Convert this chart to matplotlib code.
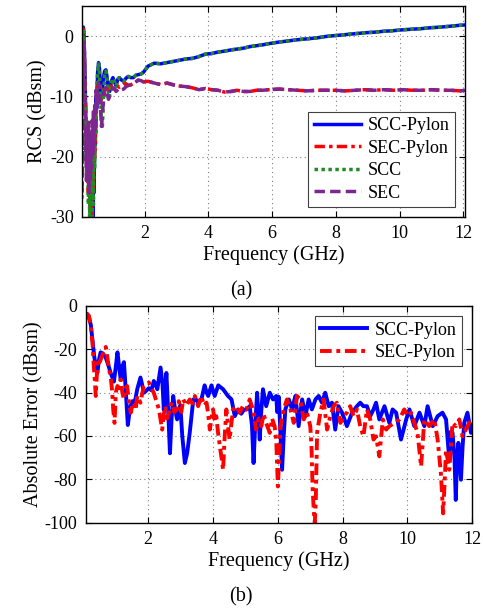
import matplotlib
matplotlib.use("Agg")
import matplotlib.pyplot as plt
import numpy as np

plt.rcParams['font.family'] = ['Liberation Serif', 'DejaVu Serif']
plt.rcParams['axes.unicode_minus'] = False

# ---------------- (a) RCS data ----------------
f_low = [0.03, 0.05, 0.07, 0.09, 0.11, 0.13, 0.15, 0.17, 0.19, 0.21, 0.23, 0.25, 0.27, 0.29,
         0.31, 0.33, 0.35, 0.37, 0.39, 0.41, 0.43, 0.45, 0.47, 0.49, 0.52, 0.55, 0.58, 0.61,
         0.64, 0.67, 0.70, 0.74, 0.78, 0.82, 0.86, 0.90, 0.95, 1.00, 1.05, 1.10, 1.15, 1.20,
         1.27, 1.34, 1.41, 1.48, 1.56, 1.64, 1.72, 1.80, 1.88, 1.96]
f_high = [2.1, 2.3, 2.5, 2.7, 2.9, 3.1, 3.3, 3.5, 3.7, 3.9, 4.1, 4.3, 4.5, 4.7, 4.9, 5.1, 5.3,
          5.5, 5.7, 5.9, 6.2, 6.5, 6.8, 7.1, 7.4, 7.7, 8.0, 8.3, 8.6, 8.9, 9.2, 9.5, 9.8, 10.1,
          10.4, 10.7, 11.0, 11.3, 11.6, 11.9, 12.05]

scc_pylon_low = [-5, -1, 1.5, 0.5, -3, -8, -14, -20, -16, -24, -18, -26, -20, -28, -22, -30,
                 -24, -30, -20, -26, -14, -18, -10, -12, -6, -4.4, -5.5, -9, -10.5, -9, -7,
                 -5.8, -5.6, -7, -9, -9.2, -7.5, -6.9, -7.6, -8.3, -7.2, -6.9, -7.3, -7.5, -7.0,
                 -6.7, -6.9, -6.9, -6.5, -6.4, -6.3, -6.0]
scc_ref_low = [-27, -10, 0, 0.8, -4, -10, -20, -14, -24, -18, -28, -20, -30, -22, -26, -18,
               -30, -22, -28, -16, -22, -12, -16, -9, -6, -4.6, -6, -10, -14, -15, -11, -6.5,
               -5.8, -7.2, -9.5, -9.6, -7.8, -7.0, -7.6, -8.3, -7.2, -6.9, -7.3, -7.5, -7.0,
               -6.7, -6.9, -6.9, -6.5, -6.4, -6.3, -6.0]
sec_pylon_low = [-4, 0, 1.7, 0, -4, -9, -12, -18, -14, -22, -26, -16, -24, -30, -20, -28, -30,
                 -18, -26, -14, -20, -12, -15, -9, -8, -7.5, -8.2, -9.5, -10.5, -9.5, -8.5,
                 -8.8, -8.6, -8.9, -8.8, -8.5, -8.3, -8.4, -8.2, -8.1, -8.3, -8.5, -8.3, -8.0,
                 -7.9, -8.2, -8.1, -7.9, -7.6, -7.3, -7.4, -7.6]
sec_ref_low = [-26, -20, -6, -1, -6, -12, -18, -24, -16, -22, -14, -26, -18, -24, -16, -22,
               -14, -20, -12, -18, -11, -16, -9, -12, -9, -7.8, -9, -12, -15, -13, -11, -9,
               -8.5, -9.5, -10.5, -10, -9, -8.6, -8.8, -9.2, -8.9, -8.6, -8.9, -8.8, -8.4,
               -8.2, -8.1, -7.9, -7.6, -7.3, -7.4, -7.6]
scc_high = [-5.0, -4.5, -4.6, -4.4, -4.2, -4.0, -3.8, -3.7, -3.4, -3.0, -2.9, -2.65, -2.5,
            -2.3, -2.15, -2.0, -1.75, -1.6, -1.45, -1.25, -1.0, -0.8, -0.6, -0.45, -0.3,
            -0.05, 0.1, 0.25, 0.4, 0.55, 0.65, 0.8, 0.9, 1.05, 1.15, 1.25, 1.4, 1.5, 1.65,
            1.8, 1.85]
sec_high = [-7.5, -7.8, -8.05, -7.8, -8.1, -8.3, -8.4, -8.6, -8.9, -8.7, -8.9, -9.0, -9.3,
            -9.2, -9.0, -9.2, -9.2, -9.0, -9.0, -8.9, -8.8, -8.9, -9.0, -9.1, -9.0, -9.0,
            -9.0, -9.1, -9.0, -8.9, -9.0, -8.9, -9.0, -8.9, -9.0, -9.0, -8.9, -9.0, -9.0,
            -9.1, -9.0]

# ---------------- (b) Absolute error data ----------------
f_err_scc = [0.07, 0.12, 0.18, 0.23, 0.28, 0.33, 0.38, 0.43, 0.48, 0.53, 0.60, 0.69, 0.76,
             0.84, 0.94, 1.00, 1.05, 1.10, 1.15, 1.20, 1.25, 1.31, 1.37, 1.44, 1.51, 1.58,
             1.66, 1.76, 1.82, 1.87, 1.95, 2.02, 2.10, 2.17, 2.22, 2.28, 2.38, 2.44, 2.48,
             2.52, 2.56, 2.62, 2.67, 2.72, 2.77, 2.83, 2.89, 2.94, 2.99, 3.05, 3.13, 3.20,
             3.28, 3.39, 3.46, 3.54, 3.64, 3.74, 3.80, 3.85, 3.95, 4.05, 4.16, 4.31, 4.46,
             4.57, 4.67, 4.77, 4.87, 4.95, 5.03, 5.13, 5.20, 5.25, 5.30, 5.36, 5.44, 5.49,
             5.54, 5.64, 5.75, 5.85, 5.95, 5.98, 6.03, 6.13, 6.18, 6.23, 6.34, 6.44, 6.54,
             6.64, 6.75, 6.85, 6.95, 7.05, 7.16, 7.26, 7.36, 7.46, 7.57, 7.67, 7.77, 7.87,
             7.98, 8.13, 8.29, 8.44, 8.54, 8.64, 8.75, 8.85, 8.95, 9.03, 9.13, 9.29, 9.44,
             9.54, 9.65, 9.80, 9.96, 10.06, 10.21, 10.37, 10.52, 10.62, 10.78, 10.93, 11.08,
             11.19, 11.29, 11.34, 11.39, 11.45, 11.49, 11.53, 11.57, 11.65, 11.70, 11.75,
             11.85, 11.96, 12.0]
err_scc = [-4.0, -3.8, -6, -9, -16, -23, -28, -31, -25, -21.5, -22, -24, -27, -31, -35, -28,
           -21.5, -28, -34, -28, -26, -40, -55, -47, -44, -45, -38.5, -33.1, -37, -40.1, -39,
           -38, -39, -34.7, -36, -38.5, -28.5, -36, -48, -40, -31, -50, -68, -52, -41.6, -48,
           -52.4, -49, -46, -60, -72.5, -68, -58.6, -43.2, -43, -44.7, -43.2, -36.7, -40,
           -41.6, -36.7, -41.6, -36.7, -38.5, -41.6, -43.2, -50.9, -47.8, -49.8, -48, -47.8,
           -46.3, -55, -72.5, -55, -40.1, -61.7, -48, -38.5, -46.3, -40.1, -43.2, -41.6, -49,
           -42, -75.6, -60, -47.8, -43.2, -47.8, -41.6, -55.5, -43.2, -50.9, -43.2, -47.8,
           -43.2, -41.6, -44.7, -40.1, -46.3, -44.7, -57.1, -46.3, -49.3, -55.5, -49.3,
           -46.3, -44.7, -46.3, -46.3, -50.9, -47.8, -44.7, -52.4, -46.3, -54.0, -47.8,
           -49.3, -61.7, -52.4, -47.8, -55.5, -49.3, -55.5, -46.3, -55.5, -50.9, -49.3,
           -52.4, -71.0, -58, -58.6, -70, -89.5, -70, -63.2, -80.2, -65, -54.0, -49.3,
           -58.6, -55]

f_err_sec = [0.05, 0.10, 0.17, 0.22, 0.28, 0.32, 0.35, 0.38, 0.42, 0.45, 0.50, 0.58, 0.65,
             0.69, 0.74, 0.79, 0.85, 0.89, 0.92, 0.96, 1.00, 1.05, 1.10, 1.15, 1.20, 1.25,
             1.30, 1.35, 1.40, 1.46, 1.51, 1.56, 1.61, 1.66, 1.71, 1.76, 1.82, 1.87, 1.95,
             2.02, 2.10, 2.17, 2.25, 2.33, 2.43, 2.48, 2.53, 2.58, 2.64, 2.69, 2.74, 2.80,
             2.89, 2.94, 3.02, 3.08, 3.18, 3.28, 3.36, 3.44, 3.54, 3.64, 3.72, 3.80, 3.85,
             3.90, 3.95, 4.00, 4.05, 4.10, 4.15, 4.21, 4.26, 4.31, 4.36, 4.41, 4.46, 4.51,
             4.56, 4.62, 4.72, 4.82, 4.92, 5.03, 5.13, 5.23, 5.33, 5.41, 5.49, 5.56, 5.64,
             5.75, 5.82, 5.90, 5.95, 6.00, 6.04, 6.08, 6.18, 6.28, 6.39, 6.49, 6.59, 6.69,
             6.80, 6.90, 7.00, 7.04, 7.07, 7.11, 7.14, 7.17, 7.21, 7.31, 7.41, 7.52, 7.62,
             7.72, 7.82, 7.93, 8.03, 8.13, 8.23, 8.34, 8.44, 8.54, 8.64, 8.75, 8.85, 8.95,
             9.03, 9.13, 9.24, 9.34, 9.44, 9.60, 9.75, 9.90, 10.01, 10.11, 10.21, 10.31,
             10.42, 10.52, 10.67, 10.83, 10.93, 11.03, 11.10, 11.15, 11.19, 11.29, 11.39,
             11.49, 11.60, 11.70, 11.80, 11.90, 12.0]
err_sec = [-4.0, -3.8, -4.6, -9, -17, -28, -34, -41.6, -30, -24.6, -26, -23, -20, -19, -24,
           -29, -34, -40, -48, -54, -40, -37, -38, -34, -40, -43.2, -38, -37, -44, -49.3, -46,
           -44.7, -48, -41.6, -43, -44.7, -40, -37, -36, -35.4, -38, -40.1, -44, -47.8,
           -57.1, -50, -46.3, -52, -49.3, -46, -44.7, -49, -47.8, -44, -49, -43.2, -46,
           -43.2, -45, -41.6, -46.3, -41.6, -46, -44.7, -50, -57.1, -52, -47.8, -53, -50.9,
           -58, -64.8, -70, -75.6, -60, -47.8, -55, -61.7, -55, -47.8, -46.3, -49.3, -46.3,
           -47.8, -43.2, -47.8, -57.1, -52, -55.5, -50, -54.0, -58.6, -52, -55.5, -62, -83.3,
           -70, -55.5, -47.8, -43.2, -47.8, -54.0, -41.6, -43.2, -52.4, -49.3, -55.5, -66,
           -83.3, -95, -100, -90, -58.6, -49.3, -43.2, -57.1, -50.9, -46.3, -44.7, -54.0,
           -50.9, -49.3, -46.3, -50.9, -47.8, -55.5, -60.2, -47.8, -52.4, -61.7, -60.2,
           -69.4, -52.4, -57.1, -55.5, -54.0, -52.4, -47.8, -50.9, -49.3, -54.0, -58.6,
           -74.1, -52.4, -55.5, -52.4, -61.7, -77.1, -95.7, -80, -66.3, -75.6, -54.0, -55.5,
           -52.4, -60.2, -57.1, -54.0, -52.4]

labels_a = ['SCC-Pylon', 'SEC-Pylon', 'SCC', 'SEC']
labels_b = ['SCC-Pylon', 'SEC-Pylon']

W, H = 483, 609
fig = plt.figure(figsize=(W / 100, H / 100), dpi=100)

lw = 2.5
blue = (0, 0, 1)
red = (1, 0, 0)
green = (0.13, 0.55, 0.13)
purple = (0.49, 0.15, 0.56)


def style_axes(ax):
    ax.grid(True, linestyle=(0, (1, 3)), color='#808080', linewidth=0.8)
    ax.tick_params(direction='in', top=True, right=True, labelsize=13, length=4,
                   width=0.8, pad=6)
    for s in ax.spines.values():
        s.set_linewidth(1.0)


# ---- (a)
ax1 = fig.add_axes([82 / W, 1 - 216.7 / H, (465 - 82) / W, (216.7 - 6) / H])
f_top = f_low + f_high
ax1.plot(f_top, scc_pylon_low + scc_high, color=blue, lw=lw, label=labels_a[0])
ax1.plot(f_top, sec_pylon_low + sec_high, color=red, lw=lw, dashes=(3, 1.2, 1, 1.2),
         label=labels_a[1])
ax1.plot(f_top, scc_ref_low + scc_high, color=green, lw=lw, dashes=(1, 1),
         label=labels_a[2])
ax1.plot(f_top, sec_ref_low + sec_high, color=purple, lw=lw, dashes=(3, 1.5),
         label=labels_a[3])
ax1.set_xlim(0.03, 12.05)
ax1.set_ylim(-30, 5)
ax1.set_xticks([2, 4, 6, 8, 10, 12])
ax1.set_yticks([0, -10, -20, -30])
style_axes(ax1)
ax1.set_xlabel('Frequency (GHz)', fontsize=14.5, labelpad=2)
ax1.set_ylabel('RCS (dBsm)', fontsize=14.5, labelpad=2)
leg1 = ax1.legend(loc='lower right', bbox_to_anchor=(0.974, 0.046), fontsize=13,
                  frameon=True, fancybox=False, framealpha=1, edgecolor='#404040',
                  handlelength=2.6, borderpad=0.3, labelspacing=0.3, handletextpad=0.4,
                  borderaxespad=0)
leg1.get_frame().set_linewidth(0.8)
fig.text(241 / W, 1 - 291 / H, '(a)', ha='center', va='center', fontsize=14.5)

# ---- (b)
ax2 = fig.add_axes([85.7 / W, 1 - 522.7 / H, (472.3 - 85.7) / W, (522.7 - 305.7) / H])
ax2.plot(f_err_scc, err_scc, color=blue, lw=lw + 0.3, label=labels_b[0])
ax2.plot(f_err_sec, err_sec, color=red, lw=lw + 0.3, dashes=(3, 1.2, 1, 1.2),
         label=labels_b[1])
ax2.set_xlim(0.07, 12.0)
ax2.set_ylim(-100, 0)
ax2.set_xticks([2, 4, 6, 8, 10, 12])
ax2.set_yticks([0, -20, -40, -60, -80, -100])
style_axes(ax2)
ax2.set_xlabel('Frequency (GHz)', fontsize=14.5, labelpad=2)
ax2.set_ylabel('Absolute Error (dBsm)', fontsize=14.5, labelpad=1)
leg2 = ax2.legend(loc='upper right', bbox_to_anchor=(0.973, 0.952), fontsize=13,
                  frameon=True, fancybox=False, framealpha=1, edgecolor='#404040',
                  handlelength=2.6, borderpad=0.3, labelspacing=0.3, handletextpad=0.4,
                  borderaxespad=0)
leg2.get_frame().set_linewidth(0.8)
fig.text(241 / W, 1 - 597 / H, '(b)', ha='center', va='center', fontsize=14.5)

fig.savefig('out.png', dpi=100)
